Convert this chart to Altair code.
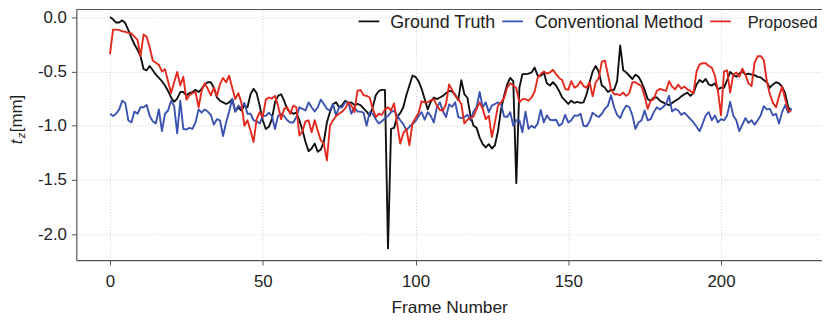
import altair as alt
import pandas as pd

# ---------------- data ----------------
ground_truth = [
    0.0, -0.02, -0.05, -0.05, -0.03, -0.055, -0.12, -0.19, -0.25, -0.30,
    -0.36, -0.48, -0.49, -0.45, -0.49, -0.53, -0.56, -0.59, -0.63, -0.68,
    -0.74, -0.78, -0.75, -0.69, -0.69, -0.72, -0.70, -0.69, -0.67, -0.69,
    -0.66, -0.62, -0.60, -0.60, -0.65, -0.74, -0.77, -0.785, -0.80, -0.785,
    -0.755, -0.87, -0.83, -0.86, -0.815, -0.83, -0.71, -0.66, -0.70, -0.815,
    -0.95, -1.03, -1.01, -0.94, -0.785, -0.725, -0.71, -0.77, -0.845, -0.875,
    -0.89, -0.88, -0.95, -1.04, -1.15, -1.235, -1.21, -1.165, -1.24, -1.22,
    -1.15, -0.97, -0.875, -0.80, -0.785, -0.83, -0.81, -0.77, -0.79, -0.785,
    -0.81, -0.80, -0.81, -0.84, -0.87, -0.91, -0.83, -0.72, -0.68, -0.67,
    -0.67, -2.13, -1.03, -1.02, -0.92, -0.885, -0.83, -0.72, -0.63, -0.54,
    -0.55, -0.59, -0.66, -0.755, -0.85, -0.78, -0.74, -0.755, -0.74, -0.725,
    -0.70, -0.68, -0.685, -0.715, -0.765, -0.58, -0.71, -0.745, -0.91, -1.00,
    -1.02, -1.11, -1.17, -1.20, -1.17, -1.21, -1.18, -1.05, -0.85, -0.725,
    -0.62, -0.56, -0.59, -1.53, -0.65, -0.525, -0.525, -0.52, -0.51, -0.465,
    -0.54, -0.54, -0.51, -0.61, -0.63, -0.60, -0.63, -0.68, -0.74, -0.77,
    -0.80, -0.77, -0.79, -0.78, -0.79, -0.785, -0.71, -0.60, -0.50, -0.45,
    -0.505, -0.63, -0.65, -0.69, -0.67, -0.67, -0.59, -0.26, -0.49, -0.51,
    -0.54, -0.57, -0.53, -0.55, -0.60, -0.67, -0.755, -0.77, -0.74, -0.74,
    -0.77, -0.785, -0.80, -0.81, -0.79, -0.77, -0.755, -0.73, -0.71, -0.695,
    -0.725, -0.70, -0.62, -0.58, -0.60, -0.57, -0.62, -0.63, -0.61, -0.665,
    -0.65, -0.65, -0.58, -0.505, -0.53, -0.55, -0.52, -0.50, -0.53, -0.52,
    -0.53, -0.535, -0.55, -0.555, -0.58, -0.60, -0.65, -0.62, -0.60, -0.61,
    -0.64, -0.70, -0.83, -0.86,
]

conventional = [
    -0.89, -0.91, -0.89, -0.85, -0.77, -0.79, -0.95, -0.97, -0.87, -0.89,
    -0.83, -0.83, -0.81, -0.91, -0.96, -0.98, -0.85, -1.05, -0.89, -0.86,
    -0.77, -0.82, -1.07, -0.77, -1.03, -1.035, -1.02, -1.03, -0.97, -0.85,
    -0.88, -0.85, -0.87, -0.90, -0.99, -0.94, -0.95, -1.095, -0.97, -0.87,
    -0.755, -0.87, -0.815, -0.84, -0.79, -0.89, -0.89, -0.95, -0.96, -0.98,
    -0.91, -0.91, -0.88, -0.91, -1.03, -0.91, -0.89, -0.91, -0.95, -0.97,
    -0.97, -0.92, -0.83, -0.845, -0.86, -0.785, -0.83, -0.87, -0.83, -0.76,
    -0.80, -0.845, -0.86, -0.80, -0.905, -0.83, -0.83, -0.785, -0.785, -0.89,
    -0.83, -0.87, -0.87, -0.88, -1.00, -0.875, -0.89, -0.94, -0.98, -0.96,
    -0.93, -0.91, -0.875, -0.86, -0.905, -0.95, -0.985, -1.04, -1.01, -0.985,
    -0.96, -0.91, -0.875, -0.945, -0.875, -0.91, -0.97, -0.83, -0.785, -0.87,
    -0.92, -0.805, -0.825, -0.785, -0.92, -0.93, -0.92, -0.90, -0.95, -0.87,
    -0.83, -0.69, -0.83, -0.785, -0.875, -0.815, -0.80, -0.785, -0.80, -0.915,
    -0.92, -0.875, -1.00, -0.95, -0.95, -1.06, -0.87, -1.03, -1.00, -1.02,
    -0.98, -0.855, -0.97, -0.905, -0.945, -0.95, -0.945, -1.00, -0.98, -0.90,
    -0.97, -0.95, -0.905, -0.91, -0.89, -1.00, -1.005, -0.96, -0.88, -0.905,
    -0.92, -0.89, -0.845, -0.815, -0.72, -0.83, -0.90, -0.93, -0.86, -0.815,
    -0.83, -0.905, -1.03, -0.97, -0.95, -0.86, -0.95, -0.94, -0.875, -0.83,
    -0.85, -0.83, -0.80, -0.725, -0.87, -0.845, -0.86, -0.90, -0.88, -0.91,
    -0.94, -0.97, -1.01, -1.05, -0.98, -0.905, -0.875, -0.95, -0.905, -0.97,
    -0.94, -0.95, -0.905, -0.78, -0.905, -0.95, -1.05, -0.99, -0.93, -0.975,
    -0.95, -0.99, -0.95, -0.905, -0.82, -0.85, -0.845, -0.905, -0.89, -0.98,
    -0.875, -0.81, -0.88, -0.84,
]

proposed = [
    -0.34, -0.115, -0.115, -0.12, -0.13, -0.135, -0.145, -0.15, -0.18, -0.21,
    -0.36, -0.16, -0.18, -0.28, -0.40, -0.42, -0.44, -0.50, -0.48, -0.59,
    -0.70, -0.60, -0.505, -0.63, -0.55, -0.76, -0.72, -0.70, -0.69, -0.83,
    -0.68, -0.61, -0.66, -0.72, -0.65, -0.725, -0.62, -0.56, -0.60, -0.54,
    -0.65, -0.755, -0.70, -0.785, -1.00, -0.95, -1.045, -1.15, -0.94, -0.875,
    -0.92, -0.76, -0.74, -0.75, -0.725, -0.815, -0.94, -0.845, -0.83, -0.89,
    -0.815, -0.83, -1.09, -1.05, -0.96, -0.95, -1.06, -0.95, -1.045, -1.135,
    -1.165, -1.32, -1.00, -0.95, -0.91, -0.89, -0.87, -0.84, -0.785, -0.815,
    -0.875, -0.68, -0.67, -0.72, -0.725, -0.74, -0.845, -0.92, -0.89, -0.90,
    -0.85, -0.83, -0.86, -0.795, -0.98, -1.165, -1.07, -1.03, -1.18, -0.98,
    -0.93, -0.885, -0.775, -0.785, -0.785, -0.765, -0.755, -0.815, -0.855, -0.86,
    -0.80, -0.62, -0.67, -0.725, -0.755, -0.80, -0.98, -0.945, -0.93, -0.915,
    -0.845, -0.785, -0.845, -0.94, -0.91, -1.105, -0.97, -0.815, -0.785, -0.745,
    -0.65, -0.61, -0.63, -0.655, -0.785, -0.755, -0.755, -0.77, -0.74, -0.685,
    -0.56, -0.525, -0.50, -0.52, -0.51, -0.485, -0.525, -0.56, -0.58, -0.66,
    -0.67, -0.59, -0.65, -0.635, -0.59, -0.635, -0.65, -0.60, -0.73, -0.60,
    -0.56, -0.41, -0.40, -0.53, -0.665, -0.71, -0.71, -0.72, -0.695, -0.725,
    -0.70, -0.60, -0.60, -0.62, -0.635, -0.73, -0.845, -0.77, -0.755, -0.68,
    -0.66, -0.67, -0.68, -0.59, -0.64, -0.665, -0.62, -0.66, -0.64, -0.665,
    -0.68, -0.70, -0.50, -0.435, -0.425, -0.425, -0.45, -0.465, -0.54, -0.68,
    -0.905, -0.50, -0.49, -0.695, -0.53, -0.51, -0.55, -0.475, -0.53, -0.61,
    -0.635, -0.42, -0.36, -0.36, -0.395, -0.59, -0.71, -0.79, -0.83, -0.73,
    -0.64, -0.755, -0.86, -0.87,
]

series_names = ["Ground Truth", "Conventional Method", "Proposed"]
series_colors = ["#111111", "#3a52b0", "#e3291e"]
x_ticks = [0, 50, 100, 150, 200]
y_ticks = [0.0, -0.5, -1.0, -1.5, -2.0]

FONT = "Liberation Sans"
W, H = 753, 253


def frame_df(vals, name):
    return pd.DataFrame({"frame": list(range(len(vals))), "tz": vals, "series": name})


x_scale = alt.Scale(domain=[-11.02, 233.06], nice=False, zero=False)
y_scale = alt.Scale(domain=[-2.237, 0.07], nice=False, zero=False)

x_axis = alt.Axis(
    values=x_ticks, title="Frame Number", format="d",
    grid=True, gridColor="#cfcfcf", gridDash=[1, 2], gridWidth=1,
    domain=True, domainColor="#555555", domainWidth=1.2,
    ticks=True, tickSize=5, tickColor="#555555", tickWidth=1,
    labelFont=FONT, labelFontSize=17, labelColor="#222222", labelPadding=9,
    titleFont=FONT, titleFontSize=17.5, titleFontWeight="normal", titleColor="#222222",
    titlePadding=9,
)
y_axis = alt.Axis(
    values=y_ticks, title=None,
    labelExpr="replace(format(datum.value, '.1f'), '\u2212', '-')",
    grid=True, gridColor="#cfcfcf", gridDash=[1, 2], gridWidth=1,
    domain=True, domainColor="#555555", domainWidth=1.2,
    ticks=True, tickSize=5, tickColor="#555555", tickWidth=1,
    labelFont=FONT, labelFontSize=17, labelColor="#222222", labelPadding=5,
)

values_by_series = [ground_truth, conventional, proposed]
layers = []
for vals, name, col in zip(values_by_series, series_names, series_colors):
    layers.append(
        alt.Chart(frame_df(vals, name)).mark_line(
            color=col, strokeWidth=1.9, strokeJoin="round"
        ).encode(
            x=alt.X("frame:Q", scale=x_scale, axis=x_axis),
            y=alt.Y("tz:Q", scale=y_scale, axis=y_axis),
        )
    )

one = pd.DataFrame({"k": [0]})

# top border of the axes box
top_border = alt.Chart(one).mark_rule(color="#555555", strokeWidth=1.2).encode(
    x=alt.value(0), x2=alt.value(W), y=alt.value(0)
)

# y-axis title: italic t, subscript z, [mm]
t_txt = alt.Chart(one).mark_text(
    text="t", font=FONT, fontSize=17, fontStyle="italic", angle=270,
    align="left", baseline="alphabetic", color="#222222"
).encode(x=alt.value(-55), y=alt.value(136))
z_txt = alt.Chart(one).mark_text(
    text="z", font=FONT, fontSize=11, fontStyle="italic", angle=270,
    align="left", baseline="alphabetic", color="#222222"
).encode(x=alt.value(-52), y=alt.value(130))
mm_txt = alt.Chart(one).mark_text(
    text="[mm]", font=FONT, fontSize=17, angle=270,
    align="left", baseline="alphabetic", color="#222222"
).encode(x=alt.value(-55), y=alt.value(124))

# legend (inside top right, no frame)
leg_line_x = [285, 430, 640]
leg_text_x = [317, 463, 678]
leg_sizes = [18, 18, 16.5]
legend_layers = []
for name, col, lx, tx, fs in zip(series_names, series_colors, leg_line_x, leg_text_x, leg_sizes):
    legend_layers.append(
        alt.Chart(one).mark_rule(color=col, strokeWidth=1.8).encode(
            x=alt.value(lx), x2=alt.value(lx + 21), y=alt.value(12)
        )
    )
    legend_layers.append(
        alt.Chart(one).mark_text(
            text=name, font=FONT, fontSize=fs, align="left", baseline="alphabetic",
            color="#222222"
        ).encode(x=alt.value(tx), y=alt.value(19))
    )

chart = alt.layer(
    *layers, top_border, t_txt, z_txt, mm_txt, *legend_layers
).properties(
    width=W, height=H,
    autosize=alt.AutoSizeParams(type="none"),
    padding={"left": 69, "top": 0, "right": 0, "bottom": 55},
    background="white",
).configure_view(stroke=None)

chart.save("out.html", embed_options={"renderer": "svg", "actions": False})
